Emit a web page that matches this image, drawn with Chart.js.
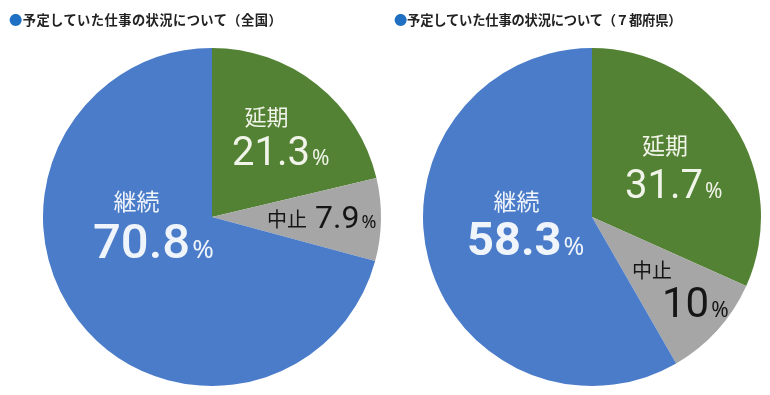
<!DOCTYPE html>
<html>
<head>
<meta charset="utf-8">
<script src="https://cdn.jsdelivr.net/npm/chart.js@4.4.1/dist/chart.umd.min.js"></script>
<style>
    body { margin: 0; background: #fff; }
    #wrap { position: relative; width: 770px; height: 395px; overflow: hidden; }
    canvas { position: absolute; top: 0; }
    .title {
        position: absolute; top: 10px; z-index: 2;
        font-family: "Noto Sans CJK JP", sans-serif; font-weight: bold;
        font-size: 13.3px; color: #222; white-space: nowrap; letter-spacing: -0.2px;
    }
    .title .dot { color: #1f6fc2; }
</style>
</head>
<body>
<div id="wrap">
    <div class="title" style="left:9px; letter-spacing:0.4px"><span class="dot">●</span>予定していた仕事の状況について（全国）</div>
    <div class="title" style="left:394px"><span class="dot">●</span>予定していた仕事の状況について（７都府県）</div>
    <canvas id="pieZenkoku" width="385" height="395" style="left:0"></canvas>
    <canvas id="pieTodofuken" width="385" height="395" style="left:385px"></canvas>
</div>
<script>
(function(){
    "use strict";

    const categories = ['延期', '中止', '継続'];
    const zenkoku = [21.3, 7.9, 70.8];
    const todofuken = [31.7, 10, 58.3];

    const colors = ['#548235', '#a6a6a6', '#4a7cc9'];
    const textColors = ['#f1f4e8', '#151515', '#f0f4fb'];

    // label layout, offsets from the pie centre
    // name: [cx, cy, size]  value: [left, baseline, numSize, pctSize, weight]
    const layoutZenkoku = [
        { name: [54.5, -100, 22], value: [20, -52, 40, 21, '400'] },
        { name: [75, 2.5, 20],    value: [103, 11, 32, 18, '400'] },
        { name: [-75.5, -16, 23], value: [-119, 41, 49, 26, '500'] }
    ];
    const layoutTodofuken = [
        { name: [73, -72, 23],    value: [33, -19, 40, 21, '400'] },
        { name: [60, 53, 20],     value: [70, 100, 42, 21, '400'] },
        { name: [-75.5, -16, 23], value: [-125, 38, 47, 25, '700'] }
    ];

    const labelPlugin = {
        id: 'sliceLabels',
        afterDatasetsDraw(chart, args, opts) {
            const ctx = chart.ctx;
            const arc = chart.getDatasetMeta(0).data[0];
            const cx = arc.x, cy = arc.y;
            const values = chart.data.datasets[0].data;
            ctx.save();
            opts.layout.forEach((l, i) => {
                ctx.fillStyle = textColors[i];
                ctx.font = `${l.name[2]}px "Noto Sans CJK JP"`;
                ctx.textAlign = 'center';
                ctx.textBaseline = 'middle';
                ctx.fillText(chart.data.labels[i], cx + l.name[0], cy + l.name[1]);

                const v = l.value;
                const num = String(values[i]);
                ctx.textAlign = 'left';
                ctx.textBaseline = 'alphabetic';
                ctx.font = `${v[4]} ${v[2]}px Roboto`;
                const x = cx + v[0], y = cy + v[1];
                ctx.fillText(num, x, y);
                const w = ctx.measureText(num).width;
                ctx.font = `400 ${v[3]}px "Noto Sans"`;
                ctx.fillText('%', x + w + 2, y);
            });
            ctx.restore();
        }
    };

    function createPie(id, data, layout, padding) {
        const ctx = document.getElementById(id).getContext('2d');
        return new Chart(ctx, {
            type: 'pie',
            data: {
                labels: categories,
                datasets: [{
                    data: data,
                    backgroundColor: colors,
                    borderWidth: 0
                }]
            },
            options: {
                responsive: false,
                animation: false,
                layout: { padding: padding },
                plugins: {
                    legend: { display: false },
                    tooltip: { enabled: false },
                    sliceLabels: { layout: layout }
                }
            },
            plugins: [labelPlugin]
        });
    }

    function init() {
        createPie('pieZenkoku', zenkoku, layoutZenkoku, { left: 43, right: 4, top: 48, bottom: 9 });
        createPie('pieTodofuken', todofuken, layoutTodofuken, { left: 38, right: 9, top: 48, bottom: 9 });
    }

    init();
})();
</script>
</body>
</html>
